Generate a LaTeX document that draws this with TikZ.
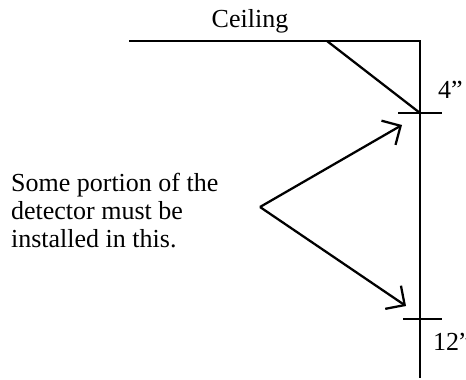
\documentclass[tikz,border=0pt]{standalone}
\usepackage{fontspec}
\setmainfont{Liberation Serif}
\usetikzlibrary{arrows.meta,positioning,calc}

\begin{document}
\begin{tikzpicture}[x=0.75pt,y=-0.75pt,line width=1.7pt,
  txt/.style={font=\fontsize{19.5}{21}\selectfont,inner sep=0pt},
  pointer/.style={-{Straight Barb[length=10.5pt,width=21pt,line width=1.7pt]}}]
  \useasboundingbox (0,0) rectangle (466,379);
  % ceiling and wall
  \coordinate (C0) at (129,41);
  \coordinate (C1) at (420,41);
  \coordinate (W1) at (420,378);
  \draw (C0) -- (C1) -- (W1);
  \node[txt,anchor=base] (ceil) at (250,27) {Ceiling};
  % marks on the wall
  \coordinate (D0) at (327,41);
  \coordinate (M4) at (420,113);
  \coordinate (M12) at (420,319);
  \draw (D0) -- (M4);
  \draw ($(M4)+(-22,0)$) -- ($(M4)+(22,0)$);
  \draw ($(M12)+(-17,0)$) -- ($(M12)+(22,0)$);
  \node[txt,anchor=base west] (four) at (437,98) {4''};
  \node[txt,anchor=base west] (twelve) at (432,350) {12''};
  % the note and its arrows
  \node[txt,align=left,anchor=north west] (note) at (10,172)
    {Some portion of the\\detector must be\\installed in this.};
  \coordinate (V) at (260,207);
  \coordinate (T1) at (402,125);
  \coordinate (T2) at (406,306);
  \draw[pointer] (V) -- (T1);
  \draw[pointer] (V) -- (T2);
\end{tikzpicture}
\end{document}
